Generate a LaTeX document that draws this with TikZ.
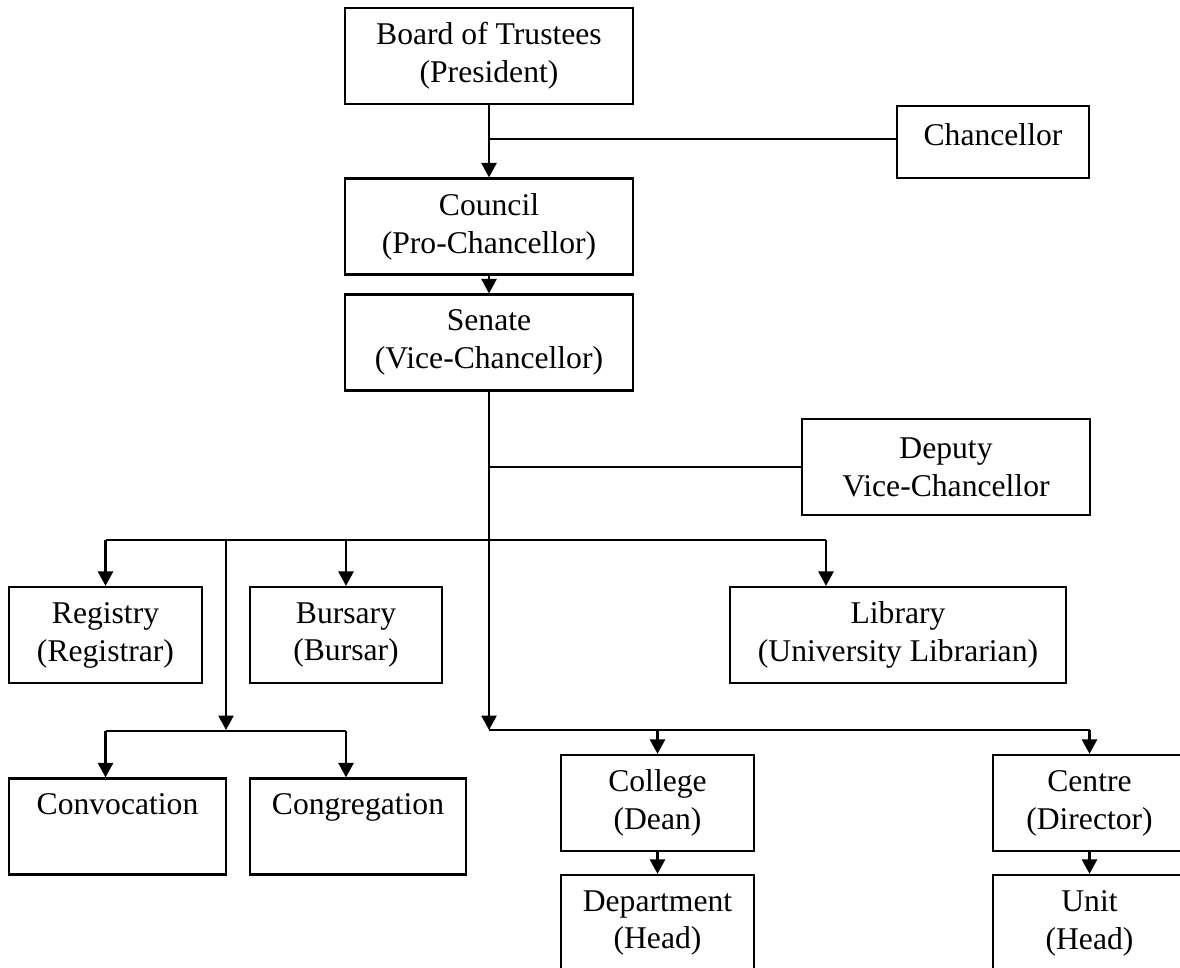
\documentclass[tikz,border=0pt]{standalone}
\usepackage{fontspec}
\setmainfont{Liberation Serif}
\usetikzlibrary{arrows.meta, positioning, calc}

\begin{document}
\begin{tikzpicture}[
    orgbox/.style={draw, line width=1.25pt, align=center, font=\fontsize{18}{21.6}\selectfont, minimum height=1.92cm, inner sep=0pt},
    trunk/.style={draw, line width=1.5pt},
    link/.style={trunk, -{Triangle[length=0.29cm, width=0.3cm]}},
    side/.style={draw, line width=1pt}
]
    \useasboundingbox (0,0) rectangle (23.6,-19.36);
    \clip (0,0) rectangle (23.6,-19.36);
    % top of the chart
    \node[orgbox, minimum width=5.76cm] (board) at (9.78,-1.12) {Board of Trustees\\(President)};
    \node[orgbox, minimum width=3.84cm, minimum height=1.44cm, text depth=8pt] (chancellor) at (19.86,-2.84) {Chancellor};
    \node[orgbox, minimum width=5.76cm] (council) at (9.78,-4.53) {Council\\(Pro-Chancellor)};
    \node[orgbox, minimum width=5.76cm] (senate) at (9.78,-6.85) {Senate\\(Vice-Chancellor)};
    \node[orgbox, minimum width=5.76cm] (dvc) at (18.92,-9.34) {Deputy\\Vice-Chancellor};
    % units under the senate
    \node[orgbox, minimum width=3.86cm] (registry) at (2.11,-12.70) {Registry\\(Registrar)};
    \node[orgbox, minimum width=3.84cm] (bursary) at (6.92,-12.70) {Bursary\\(Bursar)};
    \node[orgbox, minimum width=6.72cm] (library) at (17.96,-12.70) {Library\\(University Librarian)};
    \node[orgbox, minimum width=4.34cm] (convocation) at (2.35,-16.53) {Convocation\\\phantom{(}};
    \node[orgbox, minimum width=4.32cm] (congregation) at (7.16,-16.53) {Congregation\\\phantom{(}};
    \node[orgbox, minimum width=3.86cm] (college) at (13.15,-16.06) {College\\(Dean)};
    \node[orgbox, minimum width=3.86cm] (department) at (13.15,-18.46) {Department\\(Head)};
    \node[orgbox, minimum width=3.86cm] (centre) at (21.79,-16.06) {Centre\\(Director)};
    \node[orgbox, minimum width=3.86cm] (unit) at (21.79,-18.46) {Unit\\(Head)};

    \coordinate (chj) at (9.78,-2.78);
    \coordinate (branch) at (9.78,-10.80);
    \coordinate (hub) at (9.78,-14.60);
    \coordinate (libj) at (16.52,-10.80);
    \coordinate (cvj) at (4.52,-10.80);
    \coordinate (cvhub) at (4.52,-14.62);

    \draw[link] (board) -- (council);
    \draw[side] (chj) -- (chj -| chancellor.west);
    \draw[link] (council) -- (senate);
    \draw[link] (senate.south) -- (hub);
    \draw[side] (senate.south |- dvc.west) -- (dvc.west);
    % second row
    \draw[trunk] (registry.north |- branch) -- (libj);
    \draw[link] (registry.north |- branch) -- (registry.north);
    \draw[link] (bursary.north |- branch) -- (bursary.north);
    \draw[link] (libj) -- (libj |- library.north);
    \draw[link] (cvj) -- (cvj |- hub);
    \draw[trunk] (registry.north |- cvhub) -- (bursary.north |- cvhub);
    \draw[link] (registry.north |- cvhub) -- (registry.north |- convocation.north);
    \draw[link] (bursary.north |- cvhub) -- (bursary.north |- congregation.north);
    % colleges and centres
    \draw[trunk] (hub) -- (centre.north |- hub);
    \draw[link] (college.north |- hub) -- (college.north);
    \draw[link] (centre.north |- hub) -- (centre.north);
    \draw[link] (college) -- (department);
    \draw[link] (centre) -- (unit);
\end{tikzpicture}
\end{document}
